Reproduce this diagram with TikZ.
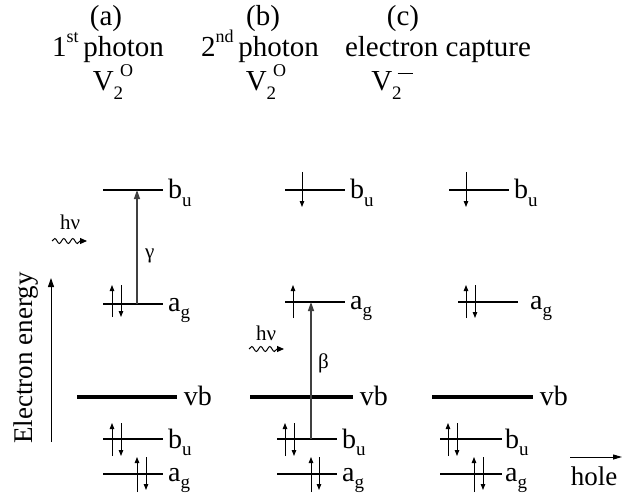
\documentclass[tikz,border=0pt]{standalone}
\usepackage{fontspec}
\setmainfont{Liberation Serif}
\usetikzlibrary{arrows.meta,positioning,decorations.pathmorphing}
\newcommand{\lowidx}[1]{\raisebox{-0.28em}{\fontsize{19}{20}\selectfont #1}}
\newcommand{\hiidx}[1]{\raisebox{0.5em}{\fontsize{18}{20}\selectfont #1}}

\begin{document}
\begin{tikzpicture}[x=1pt, y=-1pt,
    lvl/.style={line width=2.2pt},
    band/.style={line width=3.8pt},
    lab/.style={anchor=base west, inner sep=0pt, font=\fontsize{28}{30}\selectfont},
    ttl/.style={anchor=base, inner sep=0pt, font=\fontsize{29}{32}\selectfont},
    greek/.style={anchor=west, inner sep=1pt, font=\fontsize{21}{22}\selectfont},
    spin/.style={-{Triangle[length=6pt, width=4.5pt]}, line width=0.9pt},
    trans/.style={-{Triangle[length=9pt, width=6pt]}, line width=1.3pt, black!75},
    photon/.style={decorate, decoration={snake, amplitude=2.5pt, segment length=9pt, post length=5pt},
        -{Triangle[length=7pt, width=6pt]}, line width=1pt}
]
    \useasboundingbox (0,0) rectangle (641,495);
    % titles
    \node[ttl] (ta) at (106,26) {(a)};
    \node[ttl] (tb) at (263,26) {(b)};
    \node[ttl] (tc) at (403,26) {(c)};
    \node[ttl] (sa) at (108,57) {1\hiidx{st}\,photon};
    \node[ttl] (sb) at (260,57) {2\hiidx{nd}\,photon};
    \node[ttl] (sc) at (438,57) {electron capture};
    \node[ttl] (va) at (113,91) {V\lowidx{2}\kern-3pt\hiidx{O}};
    \node[ttl] (vb) at (266,91) {V\lowidx{2}\kern-3pt\hiidx{O}};
    \node[ttl] (vc) at (392,91) {V\lowidx{2}\kern-4pt\raisebox{0.58em}{\rule{15pt}{1.4pt}}};

    % energy axis
    \coordinate (e0) at (51,442);
    \coordinate (e1) at (51,278);
    \draw[-{Triangle[length=9pt, width=6pt]}, line width=1pt] (e0) -- (e1);
    \node[rotate=90, font=\fontsize{27}{28}\selectfont] (eax) at (26,358) {Electron energy};

    % (a) first photon
    \coordinate (aBu) at (103,190);
    \coordinate (aAg) at (103,304);
    \coordinate (aVb) at (77,397);
    \coordinate (aBl) at (103,439);
    \coordinate (aAl) at (103,474);
    \draw[lvl] (aBu) -- ++(60,0) node[lab, xshift=4pt, yshift=-9pt] (aBuL) {b\lowidx{u}};
    \draw[lvl] (aAg) -- ++(60,0) node[lab, xshift=4pt, yshift=-7pt] (aAgL) {a\lowidx{g}};
    \draw[band] (aVb) -- ++(100,0) node[lab, xshift=5pt, yshift=-8pt] (aVbL) {vb};
    \draw[lvl] (aBl) -- ++(60,0) node[lab, xshift=4pt, yshift=-9pt] (aBlL) {b\lowidx{u}};
    \draw[lvl] (aAl) -- ++(60,0) node[lab, xshift=4pt, yshift=-7pt] (aAlL) {a\lowidx{g}};
    \draw[spin] ([xshift=9pt, yshift=-13pt]aAg) -- ++(0,-32);
    \draw[spin] ([xshift=18pt, yshift=19pt]aAg) -- ++(0,32);
    \draw[spin] ([xshift=9pt, yshift=-17pt]aBl) -- ++(0,-33);
    \draw[spin] ([xshift=18pt, yshift=16pt]aBl) -- ++(0,33);
    \draw[spin] ([xshift=34pt, yshift=-18pt]aAl) -- ++(0,-35);
    \draw[spin] ([xshift=43pt, yshift=17pt]aAl) -- ++(0,33);
    \coordinate (gam0) at ([xshift=34pt]aAg);
    \coordinate (gam1) at ([xshift=34pt]aBu);
    \draw[trans] (gam0) -- (gam1);
    \node[greek] (gam) at (144,256) {γ};
    \coordinate (pa0) at (52,241);
    \coordinate (pa1) at (87,241);
    \draw[photon] (pa0) -- (pa1);
    \node[greek, anchor=center] (hva) at (70,222) {hν};

    % (b) second photon
    \coordinate (bBu) at (285,190);
    \coordinate (bAg) at (285,302);
    \coordinate (bVb) at (250,397);
    \coordinate (bBl) at (277,439);
    \coordinate (bAl) at (277,474);
    \draw[lvl] (bBu) -- ++(60,0) node[lab, xshift=4pt, yshift=-9pt] (bBuL) {b\lowidx{u}};
    \draw[lvl] (bAg) -- ++(60,0) node[lab, xshift=4pt, yshift=-7pt] (bAgL) {a\lowidx{g}};
    \draw[band] (bVb) -- ++(103,0) node[lab, xshift=5pt, yshift=-8pt] (bVbL) {vb};
    \draw[lvl] (bBl) -- ++(60,0) node[lab, xshift=4pt, yshift=-9pt] (bBlL) {b\lowidx{u}};
    \draw[lvl] (bAl) -- ++(60,0) node[lab, xshift=4pt, yshift=-7pt] (bAlL) {a\lowidx{g}};
    \draw[spin] ([xshift=17pt, yshift=18pt]bBu) -- ++(0,35);
    \draw[spin] ([xshift=8pt, yshift=-16pt]bAg) -- ++(0,-33);
    \draw[spin] ([xshift=8pt, yshift=-17pt]bBl) -- ++(0,-33);
    \draw[spin] ([xshift=17pt, yshift=16pt]bBl) -- ++(0,33);
    \draw[spin] ([xshift=34pt, yshift=-18pt]bAl) -- ++(0,-35);
    \draw[spin] ([xshift=42pt, yshift=17pt]bAl) -- ++(0,33);
    \coordinate (bet0) at ([xshift=34pt]bBl);
    \coordinate (bet1) at (bet0 |- bAg);
    \draw[trans] (bet0) -- (bet1);
    \node[greek] (bet) at (317,363) {β};
    \coordinate (pb0) at (249,349);
    \coordinate (pb1) at (284,349);
    \draw[photon] (pb0) -- (pb1);
    \node[greek, anchor=center] (hvb) at (266,333) {hν};

    % (c) electron capture
    \coordinate (cBu) at (449,190);
    \coordinate (cAg) at (458,302);
    \coordinate (cVb) at (432,397);
    \coordinate (cBl) at (440,439);
    \coordinate (cAl) at (440,474);
    \draw[lvl] (cBu) -- ++(60,0) node[lab, xshift=4pt, yshift=-9pt] (cBuL) {b\lowidx{u}};
    \draw[lvl] (cAg) -- ++(60,0) node[lab, xshift=11pt, yshift=-7pt] (cAgL) {a\lowidx{g}};
    \draw[band] (cVb) -- ++(101,0) node[lab, xshift=5pt, yshift=-8pt] (cVbL) {vb};
    \draw[lvl] (cBl) -- ++(62,0) node[lab, xshift=2pt, yshift=-9pt] (cBlL) {b\lowidx{u}};
    \draw[lvl] (cAl) -- ++(62,0) node[lab, xshift=2pt, yshift=-7pt] (cAlL) {a\lowidx{g}};
    \draw[spin] ([xshift=17pt, yshift=18pt]cBu) -- ++(0,35);
    \draw[spin] ([xshift=8pt, yshift=-16pt]cAg) -- ++(0,-33);
    \draw[spin] ([xshift=17pt, yshift=17pt]cAg) -- ++(0,33);
    \draw[spin] ([xshift=8pt, yshift=-17pt]cBl) -- ++(0,-33);
    \draw[spin] ([xshift=17pt, yshift=16pt]cBl) -- ++(0,33);
    \draw[spin] ([xshift=34pt, yshift=-18pt]cAl) -- ++(0,-35);
    \draw[spin] ([xshift=43pt, yshift=17pt]cAl) -- ++(0,33);

    % hole direction
    \coordinate (h0) at (570,457);
    \coordinate (h1) at (622,457);
    \draw[-{Triangle[length=9pt, width=5pt]}, line width=1pt] (h0) -- (h1);
    \node[font=\fontsize{27}{28}\selectfont] (hole) at (594,476) {hole};
\end{tikzpicture}
\end{document}
